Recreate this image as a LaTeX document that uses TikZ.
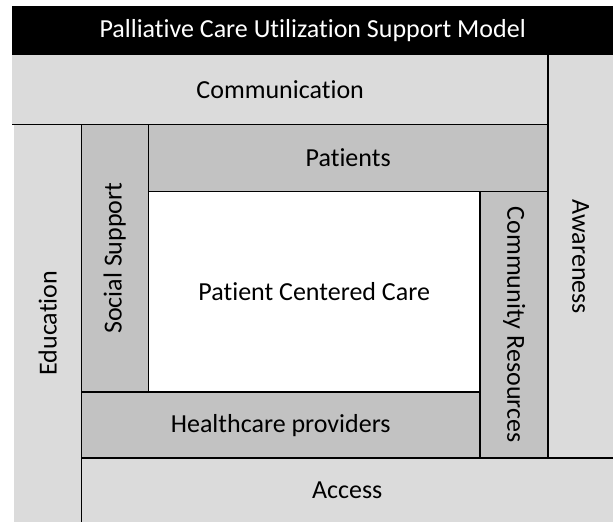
\documentclass[tikz,border=0pt]{standalone}
\usepackage{fontspec}
\setmainfont{Carlito}[Ligatures=NoCommon]
\usetikzlibrary{positioning}
\definecolor{ringout}{gray}{0.86}
\definecolor{ringin}{gray}{0.76}
\tikzset{
  band/.style={
    inner sep = 0pt,
    shape = rectangle,
    anchor = north west
  },
  outer/.style={
    band,
    fill = ringout
  },
  inner/.style={
    band,
    fill = ringin
  },
  upword/.style={
    rotate = 90
  },
  downword/.style={
    rotate = -90
  },
  border/.style={
    line width = 1.2pt,
    draw = black
  }
}

\begin{document}
\begin{tikzpicture}[x=1pt,y=-1pt,font=\fontsize{26}{30}\selectfont]
    \useasboundingbox (0,0) rectangle (613,522);
    % outer ring
    \node[band, fill=black, text=white, minimum width=601pt, minimum height=49pt] (title) at (12,6) {Palliative Care Utilization Support Model};
    \node[outer, minimum width=536pt, minimum height=69pt] (comm) at (12,55) {Communication};
    \node[outer, minimum width=65pt, minimum height=403pt, label={[downword]center:Awareness}] (aware) at (548,55) {};
    \node[outer, minimum width=532pt, minimum height=64pt] (access) at (81,458) {Access};
    \node[outer, minimum width=67pt, minimum height=398pt, label={[upword]center:Education}] (edu) at (14,124) {};
    % inner ring
    \node[inner, minimum width=400pt, minimum height=67pt] (pat) at (148,124) {Patients};
    \node[inner, minimum width=68pt, minimum height=267pt, label={[downword]center:Community Resources}] (comres) at (480,191) {};
    \node[inner, minimum width=399pt, minimum height=66pt] (hcp) at (81,392) {Healthcare providers};
    \node[inner, minimum width=67pt, minimum height=268pt, label={[upword]center:Social Support}] (social) at (81,124) {};
    % centre
    \node[band, fill=white, minimum width=332pt, minimum height=201pt] (pcc) at (148,191) {Patient Centered Care};
    % dividing lines
    \draw[border] (comm.south west) -- (comm.south east);
    \draw[border] (aware.north west) -- (aware.south west);
    \draw[border] (access.north west) -- (access.north east);
    \draw[border] (edu.north east) -- (edu.south east);
    \draw[border] (pat.south west) -- (pat.south east);
    \draw[border] (comres.north west) -- (comres.south west);
    \draw[border] (hcp.north west) -- (hcp.north east);
    \draw[border] (social.north east) -- (social.south east);
\end{tikzpicture}
\end{document}
